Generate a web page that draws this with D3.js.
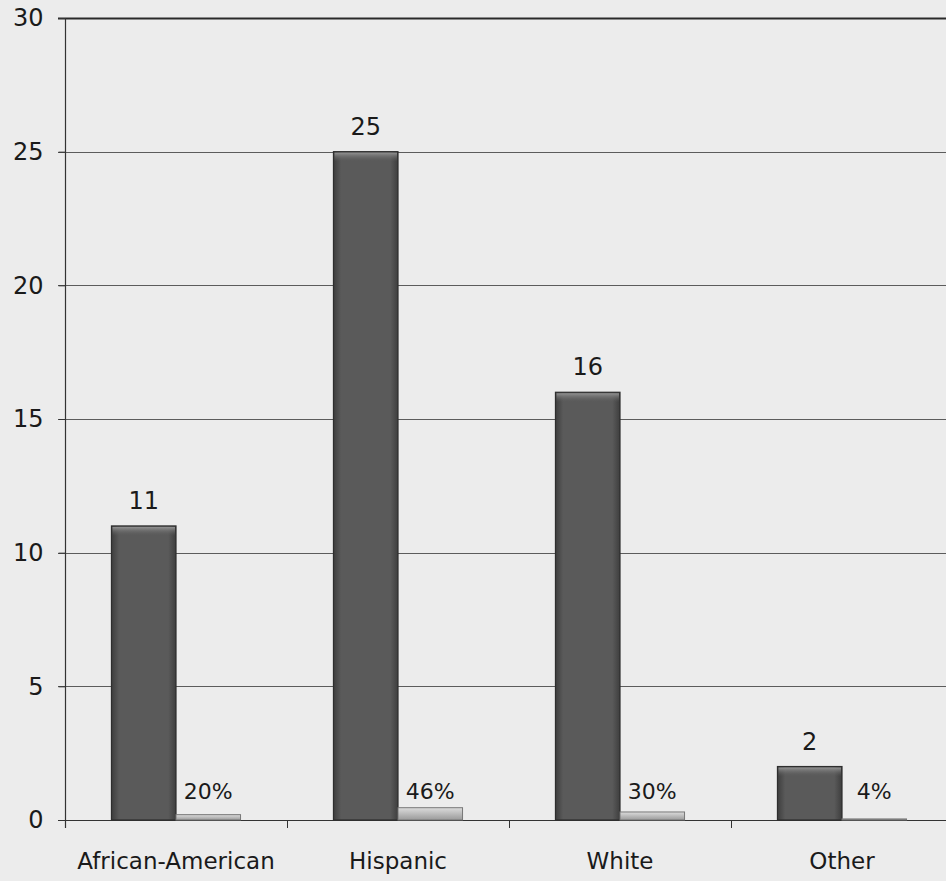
<!DOCTYPE html>
<html>
<head>
<meta charset="utf-8">
<script src="https://cdn.jsdelivr.net/npm/d3@7"></script>
<style>
html,body{margin:0;padding:0;background:#ececec;}
svg{display:block;}
text{font-family:"DejaVu Sans",sans-serif;fill:#1a1a1a;}
</style>
</head>
<body>
<svg id="chart" width="946" height="881"></svg>
<script>
const categories = ["African-American", "Hispanic", "White", "Other"];
const counts = [11, 25, 16, 2];
const percents = [20, 46, 30, 4];
const yTicks = [0, 5, 10, 15, 20, 25, 30];

const W = 946, H = 881;
const M = {left: 65, top: 18, bottom: 61};
const plotRight = 953;
const svg = d3.select("#chart");

svg.append("rect").attr("width", W).attr("height", H).attr("fill", "#ececec");

const y = d3.scaleLinear().domain([0, 30]).range([H - M.bottom, M.top]);
const x = d3.scaleBand().domain(categories).range([M.left, plotRight]).padding(0);
const x1 = d3.scaleBand().domain(["count", "pct"]).range([0, x.bandwidth()]).paddingInner(0).paddingOuter(0.72);

const defs = svg.append("defs");
const gH = defs.append("linearGradient").attr("id", "gh").attr("x1", 0).attr("x2", 1).attr("y1", 0).attr("y2", 0);
gH.append("stop").attr("offset", "0%").attr("stop-color", "#3e3e3e");
gH.append("stop").attr("offset", "12%").attr("stop-color", "#5a5a5a");
gH.append("stop").attr("offset", "88%").attr("stop-color", "#5a5a5a");
gH.append("stop").attr("offset", "100%").attr("stop-color", "#3e3e3e");
const gV = defs.append("linearGradient").attr("id", "gv").attr("x1", 0).attr("x2", 0).attr("y1", 0).attr("y2", 1);
gV.append("stop").attr("offset", "0%").attr("stop-color", "#929292");
gV.append("stop").attr("offset", "100%").attr("stop-color", "#5a5a5a").attr("stop-opacity", 0);
const gL = defs.append("linearGradient").attr("id", "gl").attr("x1", 0).attr("x2", 0).attr("y1", 0).attr("y2", 1);
gL.append("stop").attr("offset", "0%").attr("stop-color", "#dcdcdc");
gL.append("stop").attr("offset", "100%").attr("stop-color", "#9a9a9a");

// gridlines
svg.append("g").selectAll("line").data(yTicks.filter(t => t > 0)).join("line")
  .attr("x1", M.left - 7).attr("x2", W)
  .attr("y1", d => Math.round(y(d)) + 0.5).attr("y2", d => Math.round(y(d)) + 0.5)
  .attr("stroke", d => d === 30 ? "#2a2a2a" : "#5c5c5c")
  .attr("stroke-width", d => d === 30 ? 2 : 1);

// y axis
const yAxis = d3.axisLeft(y).tickValues(yTicks).tickSize(7).tickPadding(15).tickFormat(d3.format("d"));
const gy = svg.append("g").attr("transform", `translate(${M.left + 0.5},0)`).call(yAxis);
gy.select(".domain").remove();
gy.selectAll(".tick line").attr("stroke", "#333");
gy.selectAll(".tick text").attr("font-size", 24).attr("font-family", "DejaVu Sans, sans-serif").attr("fill", "#1a1a1a");
svg.append("line").attr("x1", M.left + 0.5).attr("x2", M.left + 0.5)
  .attr("y1", M.top).attr("y2", y(0) + 8).attr("stroke", "#333").attr("stroke-width", 1.2);

// x axis
const xAxis = d3.axisBottom(x).tickSize(0).tickPadding(32);
const gx = svg.append("g").attr("transform", `translate(0,${Math.round(y(0)) + 0.5})`).call(xAxis);
gx.select(".domain").remove();
gx.selectAll(".tick text").attr("font-size", 23).attr("font-family", "DejaVu Sans, sans-serif").attr("fill", "#1a1a1a");
svg.append("line").attr("x1", M.left - 7).attr("x2", W)
  .attr("y1", Math.round(y(0)) + 0.5).attr("y2", Math.round(y(0)) + 0.5)
  .attr("stroke", "#333").attr("stroke-width", 1.2);
// category boundary ticks
svg.append("g").selectAll("line").data(categories.slice(1)).join("line")
  .attr("x1", d => Math.round(x(d)) + 0.5).attr("x2", d => Math.round(x(d)) + 0.5)
  .attr("y1", y(0)).attr("y2", y(0) + 8).attr("stroke", "#333");

const data = categories.map((c, i) => ({c, count: counts[i], pct: percents[i]}));

// count bars
const cb = svg.append("g").selectAll("g").data(data).join("g");
cb.append("rect")
  .attr("x", d => x(d.c) + x1("count")).attr("width", x1.bandwidth())
  .attr("y", d => y(d.count)).attr("height", d => y(0) - y(d.count))
  .attr("fill", "url(#gh)").attr("stroke", "#2e2e2e").attr("stroke-width", 1.2);
cb.append("rect")
  .attr("x", d => x(d.c) + x1("count") + 1).attr("width", x1.bandwidth() - 2)
  .attr("y", d => y(d.count) + 1).attr("height", 9)
  .attr("fill", "url(#gv)");
cb.append("text")
  .attr("x", d => x(d.c) + x1("count") + x1.bandwidth() / 2)
  .attr("y", d => y(d.count) - 17)
  .attr("text-anchor", "middle").attr("font-size", 24)
  .text(d => d.count);

// percent bars
const pb = svg.append("g").selectAll("g").data(data).join("g");
pb.append("rect")
  .attr("x", d => x(d.c) + x1("pct")).attr("width", x1.bandwidth())
  .attr("y", d => y(d.pct / 100)).attr("height", d => Math.max(1, y(0) - y(d.pct / 100)))
  .attr("fill", "url(#gl)").attr("stroke", "#777").attr("stroke-width", 1);
pb.append("text")
  .attr("x", d => x(d.c) + x1("pct") + x1.bandwidth() / 2)
  .attr("y", d => y(0) - 21)
  .attr("text-anchor", "middle").attr("font-size", 22)
  .text(d => d.pct + "%");
</script>
</body>
</html>
